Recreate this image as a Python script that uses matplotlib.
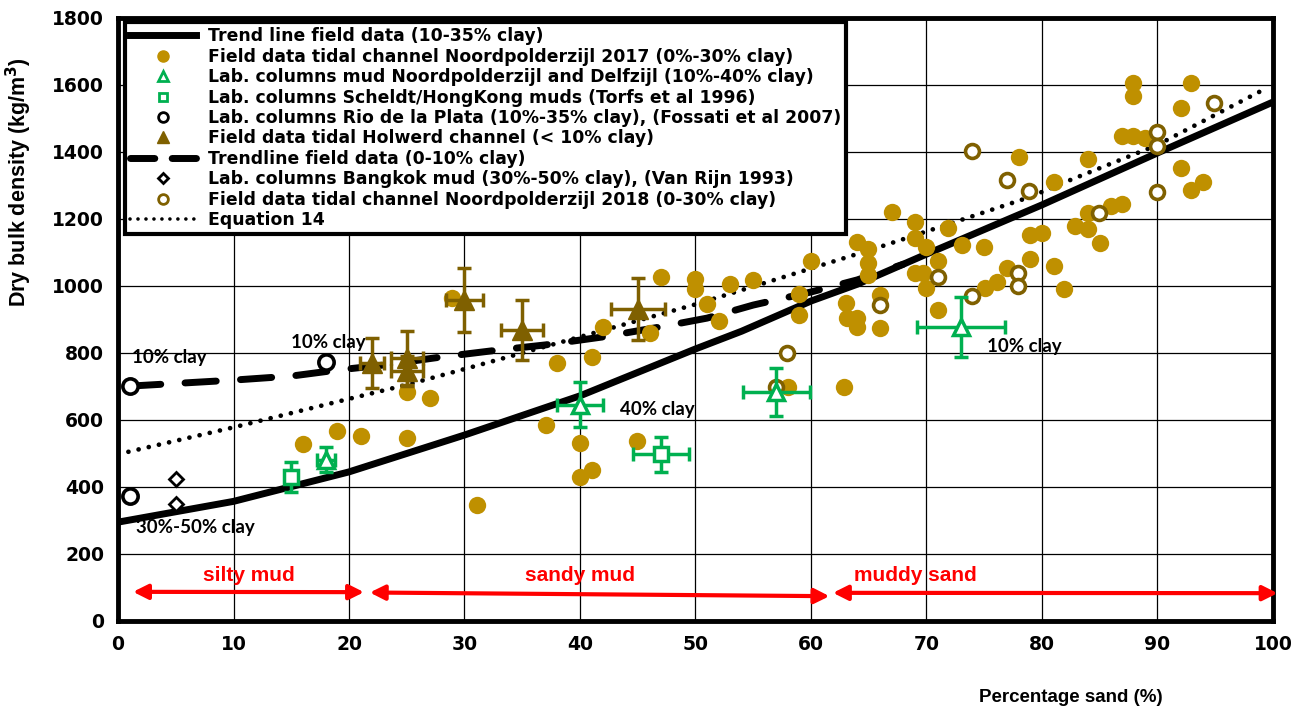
import numpy as np
import matplotlib.pyplot as plt
from matplotlib.lines import Line2D

# Field data tidal channel Noordpolderzijl 2017 (0%-30% clay)
npz17_sand = [16, 19, 21, 25, 25, 27, 28.9, 31.1, 37.1, 38, 40, 40, 41, 41, 42, 44.9,
              46.1, 47, 50, 50, 51, 52, 53, 55, 58, 59, 59, 60, 62.9, 63, 63.1, 64,
              64, 64, 64.9, 64.9, 64.9, 66, 66, 67, 69, 69, 70, 71, 69, 69.7, 70, 71,
              71.9, 73.1, 75, 76.1, 75.1, 77, 79, 79, 78, 80, 81, 81.9, 81, 84, 84,
              82.9, 84, 85, 86, 86.9, 86.9, 87.9, 88.9, 87.9, 87.9, 92.9, 92, 92,
              93.9, 92.9]
npz17_rho = [528, 567, 552, 546, 684, 666, 964, 346, 585, 770, 531, 430, 451, 788, 878, 537,
             860, 1027, 1020, 991, 946, 896, 1006, 1018, 699, 976, 913, 1075, 699, 950, 904, 1130,
             905, 878, 1110, 1068, 1033, 973, 875, 1221, 1190, 1143, 1116, 1075, 1039, 1039, 994, 928,
             1172, 1122, 1116, 1012, 994, 1054, 1152, 1080, 1385, 1158, 1060, 991, 1311, 1379, 1218,
             1179, 1170, 1128, 1239, 1245, 1448, 1448, 1442, 1606, 1567, 1606, 1531, 1352,
             1311, 1287]

# Field data tidal channel Noordpolderzijl 2018 (0-30% clay)
npz18_sand = [57, 57.9, 66, 71, 73.9, 73.9, 77, 78.9, 77.9, 77.9, 84.9, 90, 90, 90, 94.9]
npz18_rho = [699, 800, 943, 1027, 1403, 970, 1316, 1284, 1039, 1000, 1218, 1460, 1418, 1281, 1546]

# Field data tidal Holwerd channel (< 10% clay)
holw_sand = [22, 25, 25, 30, 35, 45]
holw_rho = [770, 785, 745, 958, 869, 931]
holw_xerr = [1.05, 1.4, 1.4, 1.6, 1.8, 2.35]
holw_yerr = [75, 80, 45, 95, 90, 92]

# Lab. columns mud Noordpolderzijl and Delfzijl (10%-40% clay)
labnd_sand = [18, 40, 57, 73]
labnd_rho = [481, 645, 683, 878]
labnd_xerr = [0.8, 2.0, 2.9, 3.8]
labnd_yerr = [37, 67, 72, 90]

# Lab. columns Scheldt/HongKong muds (Torfs et al 1996)
torfs_sand = [15, 47]
torfs_rho = [430, 498]
torfs_xerr = [0, 2.4]
torfs_yerr = [45, 52]

# Lab. columns Rio de la Plata (Fossati et al 2007)
rio_sand = [1, 1, 18]
rio_rho = [700, 372, 773]

# Lab. columns Bangkok mud (Van Rijn 1993)
bkk_sand = [5, 5]
bkk_rho = [424, 349]

# Trend line field data (10-35% clay)
trend1_sand = [0, 10, 20, 25, 30, 40, 50, 54, 60, 64, 70, 80, 90, 100]
trend1_rho = [295, 357, 445, 500, 555, 672, 812, 865, 955, 1005, 1095, 1242, 1397, 1549]

# Trendline field data (0-10% clay)
trend2_sand = [1, 5.5, 10, 15, 19, 23, 28, 33, 37, 42, 47, 51, 55, 60, 64, 68]
trend2_rho = [701, 710, 719, 731, 749, 764, 788, 809, 824, 848, 878, 904, 943, 982, 1018, 1065]

# Equation 14
eq14_sand = [0.9, 10, 20, 25, 30, 40, 50, 56, 66, 73, 79, 82, 90, 99.3]
eq14_rho = [505, 578, 663, 705, 752, 848, 945, 1009, 1117, 1197, 1266, 1310, 1421, 1588]

GOLD = '#BF9000'
BROWN = '#7F6000'
GREEN = '#00B050'
DOTS = (0, (0.01, 2.2))

fig = plt.figure(figsize=(13.04, 7.15), dpi=100)
ax = fig.add_axes([0.0905, 0.1315, 0.8857, 0.8434])

ax.plot(trend1_sand, trend1_rho, color='black', lw=5, solid_capstyle='butt', zorder=3)
ax.plot(trend2_sand, trend2_rho, color='black', lw=5, dashes=(4.5, 3.5),
        dash_capstyle='round', zorder=3)
ax.plot(eq14_sand, eq14_rho, color='black', lw=3.4, linestyle=DOTS,
        dash_capstyle='round', zorder=3)

ax.plot(npz17_sand, npz17_rho, 'o', color=GOLD, ms=12.5, mec='none', zorder=4)
ax.plot(npz18_sand, npz18_rho, 'o', mfc='white', mec=BROWN, mew=2.6, ms=10, zorder=5)
ax.plot(rio_sand, rio_rho, 'o', mfc='white', mec='black', mew=2.6, ms=11, zorder=5)
ax.plot(bkk_sand, bkk_rho, 'D', mfc='white', mec='black', mew=2, ms=7, zorder=5)

ax.errorbar(holw_sand, holw_rho, xerr=holw_xerr, yerr=holw_yerr, fmt='^', color=BROWN,
            ms=14, elinewidth=2.5, capsize=5, capthick=2.5, zorder=6)
ax.errorbar(labnd_sand, labnd_rho, xerr=labnd_xerr, yerr=labnd_yerr, fmt='^', mfc='white',
            mec=GREEN, mew=2.5, ecolor=GREEN, ms=11, elinewidth=2.5, capsize=5,
            capthick=2.5, zorder=6)
ax.errorbar(torfs_sand, torfs_rho, xerr=torfs_xerr, yerr=torfs_yerr, fmt='s', mfc='white',
            mec=GREEN, mew=2.5, ecolor=GREEN, ms=9.5, elinewidth=2.5, capsize=5,
            capthick=2.5, zorder=6)

ax.set_xlim(0, 100)
ax.set_ylim(0, 1800)
ax.set_xticks(np.arange(0, 101, 10))
ax.set_yticks(np.arange(0, 1801, 200))
ax.grid(True, color='black', lw=0.9)
ax.set_axisbelow(True)
ax.tick_params(length=0, pad=10)
for lab in ax.get_xticklabels() + ax.get_yticklabels():
    lab.set_fontfamily('DejaVu Sans')
    lab.set_fontweight('bold')
    lab.set_fontsize(13.5)
for sp in ax.spines.values():
    sp.set_linewidth(3.5)

ax.set_ylabel('Dry bulk density (kg/m$^\\mathbf{3}$)', fontsize=15.5, fontweight='bold',
              family='Liberation Sans')
ax.yaxis.set_label_coords(-0.073, 0.728)
fig.text(0.821, 0.025, 'Percentage sand (%)', fontsize=13.5, fontweight='bold',
         family='Liberation Sans', ha='center', va='center')

# text annotations
note = dict(fontsize=13.5, fontweight='bold', family='Lato', zorder=7)
ax.text(1.2, 785, '10% clay', va='center', **note)
ax.text(15.0, 830, '10% clay', va='center', **note)
ax.text(1.6, 280, '30%-50% clay', va='center', **note)
ax.text(43.5, 630, '40% clay', va='center', **note)
ax.text(75.2, 820, '10% clay', va='center', **note)

# zones
arr = dict(arrowstyle='<|-|>', color='red', lw=3, mutation_scale=22, shrinkA=0, shrinkB=0)
ax.annotate('', xy=(1.3, 87), xytext=(21.3, 86), arrowprops=arr, zorder=7)
ax.annotate('', xy=(21.8, 85), xytext=(61.6, 74), arrowprops=arr, zorder=7)
ax.annotate('', xy=(61.9, 84), xytext=(100.4, 83), arrowprops=arr, zorder=7, annotation_clip=False)
zone = dict(fontsize=15, fontweight='bold', family='Liberation Sans', color='red',
            ha='center', va='center', zorder=7)
ax.text(11.3, 137, 'silty mud', **zone)
ax.text(40.0, 137, 'sandy mud', **zone)
ax.text(69.0, 137, 'muddy sand', **zone)

handles = [
    Line2D([], [], color='black', lw=5),
    Line2D([], [], ls='none', marker='o', color=GOLD, ms=8),
    Line2D([], [], ls='none', marker='^', mfc='white', mec=GREEN, mew=2, ms=7),
    Line2D([], [], ls='none', marker='s', mfc='white', mec=GREEN, mew=2, ms=6),
    Line2D([], [], ls='none', marker='o', mfc='white', mec='black', mew=2, ms=7),
    Line2D([], [], ls='none', marker='^', color=BROWN, ms=8),
    Line2D([], [], color='black', lw=5, dashes=(3.5, 2.5), dash_capstyle='round'),
    Line2D([], [], ls='none', marker='D', mfc='white', mec='black', mew=2, ms=5.5),
    Line2D([], [], ls='none', marker='o', mfc='white', mec=BROWN, mew=2, ms=7),
    Line2D([], [], color='black', lw=2.6, linestyle=DOTS, dash_capstyle='round'),
]
labels = [
    'Trend line field data (10-35% clay)',
    'Field data tidal channel Noordpolderzijl 2017 (0%-30% clay)',
    'Lab. columns mud Noordpolderzijl and Delfzijl (10%-40% clay)',
    'Lab. columns Scheldt/HongKong muds (Torfs et al 1996)',
    'Lab. columns Rio de la Plata (10%-35% clay), (Fossati et al 2007)',
    'Field data tidal Holwerd channel (< 10% clay)',
    'Trendline field data (0-10% clay)',
    'Lab. columns Bangkok mud (30%-50% clay), (Van Rijn 1993)',
    'Field data tidal channel Noordpolderzijl 2018 (0-30% clay)',
    'Equation 14',
]
leg = ax.legend(handles, labels, loc='upper left', bbox_to_anchor=(0.006, 0.993),
                borderaxespad=0, fancybox=False, framealpha=1, edgecolor='black',
                prop=dict(family='DejaVu Sans', weight='bold', size=12.4),
                handlelength=3.8, handletextpad=0.7, labelspacing=0.14,
                borderpad=0.3, frameon=True)
leg.get_frame().set_linewidth(3)
leg.set_zorder(10)

fig.savefig('out.png', dpi=100)
